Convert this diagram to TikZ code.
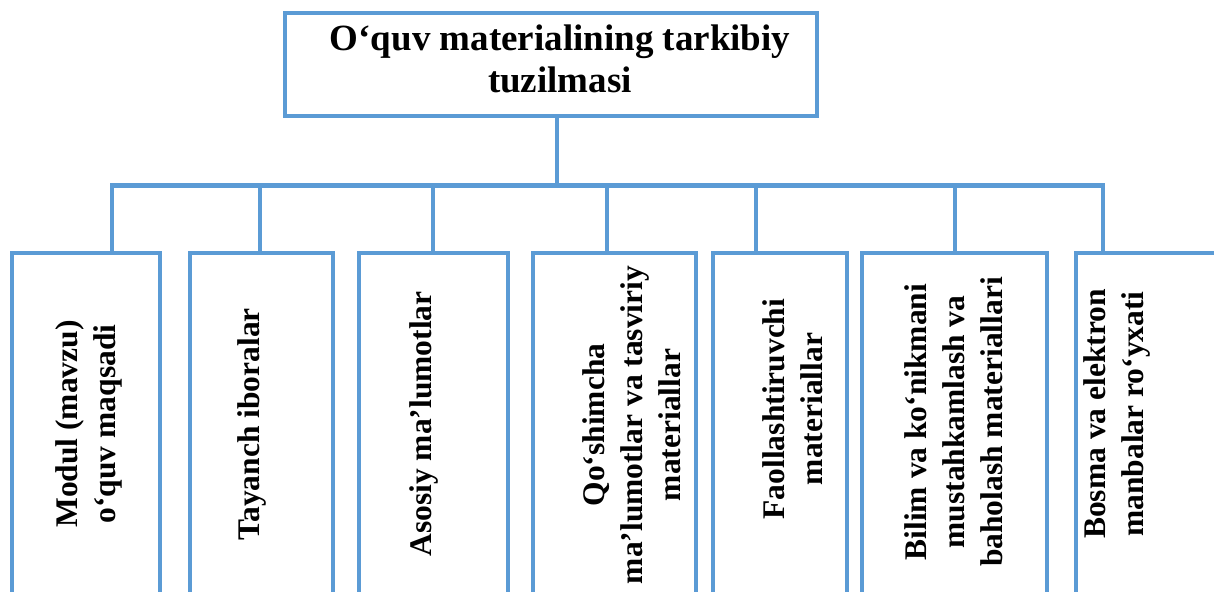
\documentclass[tikz,border=0pt]{standalone}
\usepackage{fontspec}
\setmainfont{Liberation Serif}
\usepackage{tikz}

\definecolor{linkblue}{RGB}{91,155,213}

\begin{document}
\begin{tikzpicture}[x=1pt,y=-1pt,
  box/.style={draw=linkblue, line width=4.2pt, rectangle, inner sep=0pt, fill=white},
  link/.style={draw=linkblue, line width=4.2pt},
  headtxt/.style={font=\fontsize{37}{42}\selectfont\bfseries, align=center},
  leaftxt/.style={font=\fontsize{31.5}{38}\selectfont\bfseries, align=center, rotate=90}]

% Page frame
\useasboundingbox (0,0) rectangle (1214,591);
\clip (0,0) rectangle (1214,591);

% Rows
\def\bus{185.5}
\def\boxtop{253}
\def\boxbot{596}

% Head box
\node[box, minimum width=532pt, minimum height=103pt] (head) at (551,64.5) {};
\node[headtxt] (headtext) at (560,58.5) {O‘quv materialining tarkibiy\\tuzilmasi};

% Leaf boxes: left/right/drop/text x/text y/text
\foreach \i/\bl/\br/\c/\tx/\ty/\txt in {
  1/12/160/112/89/424/{Modul (mavzu)\\o‘quv maqsadi},
  2/190/333/260/251.5/424.5/{Tayanch iboralar},
  3/359/508/433/423.5/424/{Asosiy ma’lumotlar},
  4/533/696/607/632/425/{Qo‘shimcha\\ma’lumotlar va tasviriy\\materiallar},
  5/713/847/756/793/409/{Faollashtiruvchi\\materiallar},
  6/862/1047/955/954/422/{Bilim va ko‘nikmani\\mustahkamlash va\\baholash materiallari},
  7/1076/1250/1103/1117/414/{Bosma va elektron\\manbalar ro‘yxati}}
{
  \pgfmathsetmacro\w{\br-\bl}
  \pgfmathsetmacro\cx{(\bl+\br)/2}
  \node[box, minimum width=\w pt, minimum height=\boxbot pt-\boxtop pt] (b\i) at (\cx,{(\boxtop+\boxbot)/2}) {};
  \node[leaftxt] (t\i) at (\tx,\ty) {\txt};
  \coordinate (c\i) at (\c,\bus);
}

% Bus and drops
\draw[link] (c1 |- b1.north) -- (c1) -- (c7) -- (c7 |- b7.north);
\foreach \i in {2,...,6}
  \draw[link] (c\i) -- (c\i |- b\i.north);

% Stem from the head box
\coordinate (stem) at (557,\bus);
\draw[link] (stem |- head.south) -- (stem);

\end{tikzpicture}
\end{document}
